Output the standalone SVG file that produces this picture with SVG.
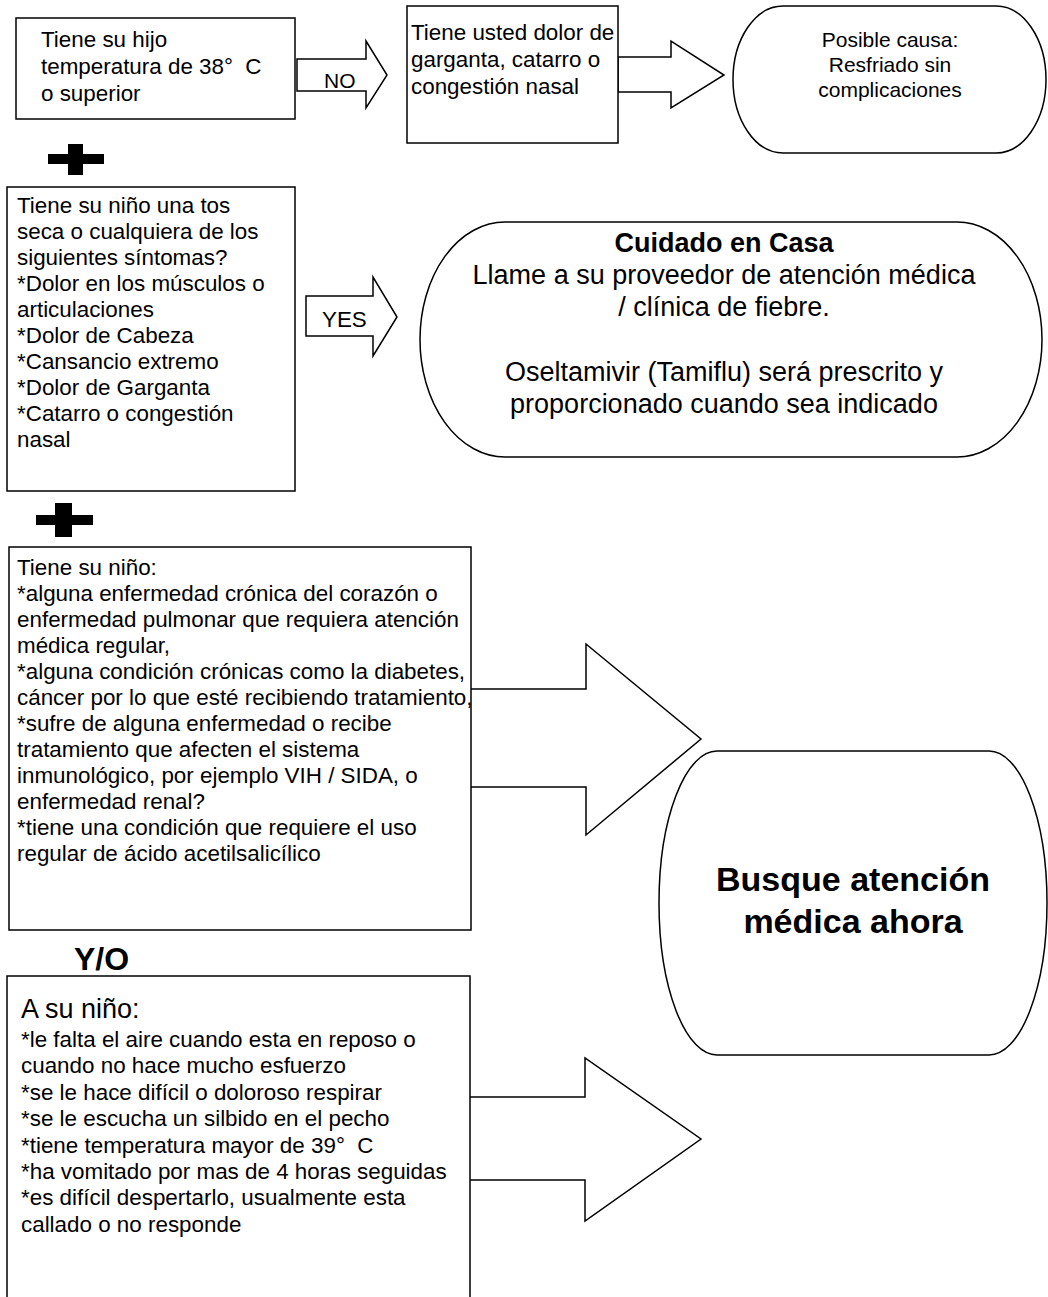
<svg xmlns="http://www.w3.org/2000/svg" width="1048" height="1297" viewBox="0 0 1048 1297">
<style>
  .shape { fill: #fff; stroke: #000; stroke-width: 1.5; }
  .t { font-family: "Liberation Sans", Arial, sans-serif; font-size: 22.4px; fill: #000; }
  .c { text-anchor: middle; }
  .b { font-weight: bold; }
  .s21 { font-size: 21px; }
  .s27 { font-size: 27px; }
  .s32 { font-size: 32px; }
  .s34 { font-size: 34px; }
  .plus { fill: #000; }
</style>
<rect width="1048" height="1297" fill="#fff"/>
<g id="connectors">
  <g id="arrow-no">
    <polygon class="shape" points="297,59 366,59 366,41 387,75 366,108 366,91 297,91"/>
    <text class="t s21" x="324" y="88">NO</text>
  </g>
  <polygon id="arrow-to-resfriado" class="shape" points="618,57 671,57 671,41 724,75 671,108 671,92 618,92"/>
  <g id="arrow-yes">
    <polygon class="shape" points="306,296 373,296 373,277 397,317 373,356 373,336 306,336"/>
    <text class="t" x="322" y="327">YES</text>
  </g>
  <polygon id="arrow-cronicas" class="shape" points="470,689 586,689 586,644 701,739 586,835 586,787 470,787"/>
  <polygon id="arrow-sintomas" class="shape" points="469,1097 585,1097 585,1058 701,1139 585,1221 585,1180 469,1180"/>
</g>
<g id="node-temperatura">
  <rect class="shape" x="16" y="18" width="279" height="101"/>
  <text class="t"><tspan x="41" y="47">Tiene su hijo</tspan><tspan x="41" y="74">temperatura de 38°&#160; C</tspan><tspan x="41" y="101">o superior</tspan></text>
</g>
<g id="node-garganta">
  <rect class="shape" x="407" y="6" width="211" height="137"/>
  <text class="t"><tspan x="411" y="40">Tiene usted dolor de</tspan><tspan x="411" y="67">garganta, catarro o</tspan><tspan x="411" y="94">congestión nasal</tspan></text>
</g>
<g id="node-resfriado">
  <path class="shape" d="M783,6 H996 A50,73.5 0 0 1 996,153 H783 A50,73.5 0 0 1 783,6 Z"/>
  <text class="t c s21"><tspan x="890" y="47">Posible causa:</tspan><tspan x="890" y="72">Resfriado sin</tspan><tspan x="890" y="97">complicaciones</tspan></text>
</g>
<g id="plus-1">
  <rect class="plus" x="48" y="154" width="56" height="10"/>
  <rect class="plus" x="68" y="144" width="15" height="31"/>
</g>
<g id="node-tos">
  <rect class="shape" x="7" y="187" width="288" height="304"/>
  <text class="t"><tspan x="17" y="213">Tiene su niño una tos</tspan><tspan x="17" y="239">seca o cualquiera de los</tspan><tspan x="17" y="265">siguientes síntomas?</tspan><tspan x="17" y="291">*Dolor en los músculos o</tspan><tspan x="17" y="317">articulaciones</tspan><tspan x="17" y="343">*Dolor de Cabeza</tspan><tspan x="17" y="369">*Cansancio extremo</tspan><tspan x="17" y="395">*Dolor de Garganta</tspan><tspan x="17" y="421">*Catarro o congestión</tspan><tspan x="17" y="447">nasal</tspan></text>
</g>
<g id="node-cuidado">
  <path class="shape" d="M505,222 H957 A85,117.5 0 0 1 957,457 H505 A85,117.5 0 0 1 505,222 Z"/>
  <text class="t c s27"><tspan class="b" x="724" y="252">Cuidado en Casa</tspan><tspan x="724" y="284">Llame a su proveedor de atención médica</tspan><tspan x="724" y="316">/ clínica de fiebre.</tspan><tspan x="724" y="381">Oseltamivir (Tamiflu) será prescrito y</tspan><tspan x="724" y="413">proporcionado cuando sea indicado</tspan></text>
</g>
<g id="plus-2">
  <rect class="plus" x="36" y="515" width="57" height="10"/>
  <rect class="plus" x="55" y="503" width="17" height="34"/>
</g>
<g id="node-cronicas">
  <rect class="shape" x="9" y="547" width="462" height="383"/>
  <text class="t"><tspan x="17" y="575">Tiene su niño:</tspan><tspan x="17" y="601">*alguna enfermedad crónica del corazón o</tspan><tspan x="17" y="627">enfermedad pulmonar que requiera atención</tspan><tspan x="17" y="653">médica regular,</tspan><tspan x="17" y="679">*alguna condición crónicas como la diabetes,</tspan><tspan x="17" y="705">cáncer por lo que esté recibiendo tratamiento,</tspan><tspan x="17" y="731">*sufre de alguna enfermedad o recibe</tspan><tspan x="17" y="757">tratamiento que afecten el sistema</tspan><tspan x="17" y="783">inmunológico, por ejemplo VIH / SIDA, o</tspan><tspan x="17" y="809">enfermedad renal?</tspan><tspan x="17" y="835">*tiene una condición que requiere el uso</tspan><tspan x="17" y="861">regular de ácido acetilsalicílico</tspan></text>
</g>
<g id="label-yo">
  <text class="t b s32" x="74" y="970">Y/O</text>
</g>
<g id="node-sintomas">
  <rect class="shape" x="7" y="976" width="463" height="330"/>
  <text class="t"><tspan class="s27" x="21" y="1018">A su niño:</tspan><tspan x="21" y="1047">*le falta el aire cuando esta en reposo o</tspan><tspan x="21" y="1073">cuando no hace mucho esfuerzo</tspan><tspan x="21" y="1100">*se le hace difícil o doloroso respirar</tspan><tspan x="21" y="1126">*se le escucha un silbido en el pecho</tspan><tspan x="21" y="1153">*tiene temperatura mayor de 39°&#160; C</tspan><tspan x="21" y="1179">*ha vomitado por mas de 4 horas seguidas</tspan><tspan x="21" y="1205">*es difícil despertarlo, usualmente esta</tspan><tspan x="21" y="1232">callado o no responde</tspan></text>
</g>
<g id="node-busque">
  <path class="shape" d="M717,751 H989 A58,152 0 0 1 989,1055 H717 A58,152 0 0 1 717,751 Z"/>
  <text class="t c b s34"><tspan x="853" y="891">Busque atención</tspan><tspan x="853" y="933">médica ahora</tspan></text>
</g>
</svg>
